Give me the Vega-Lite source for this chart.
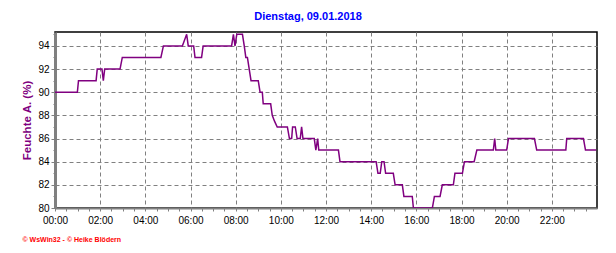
{
  "$schema": "https://vega.github.io/schema/vega-lite/v6.json",
  "width": 542,
  "height": 176,
  "autosize": {"type": "none"},
  "padding": {"left": 55, "top": 32, "right": 19, "bottom": 45},
  "background": "white",
  "title": {"text": "Dienstag, 09.01.2018", "color": "#0000FF", "font": "Liberation Sans", "fontSize": 11, "fontWeight": "bold", "anchor": "middle", "dx": -18, "dy": 13, "offset": 11, "baseline": "alphabetic"},
  "config": {"view": {"stroke": "#000000", "strokeWidth": 1.5}},
  "data": {"values": [
    {"h": 0, "v": 90}, {"h": 0.99, "v": 90}, {"h": 1.04, "v": 91}, {"h": 1.82, "v": 91}, {"h": 1.87, "v": 92},
    {"h": 2.08, "v": 92}, {"h": 2.14, "v": 91}, {"h": 2.2, "v": 92}, {"h": 2.88, "v": 92}, {"h": 2.98, "v": 93},
    {"h": 4.69, "v": 93}, {"h": 4.8, "v": 94}, {"h": 5.64, "v": 94}, {"h": 5.83, "v": 95}, {"h": 5.9, "v": 94},
    {"h": 6.14, "v": 94}, {"h": 6.2, "v": 93}, {"h": 6.49, "v": 93}, {"h": 6.56, "v": 94}, {"h": 7.82, "v": 94},
    {"h": 7.9, "v": 95}, {"h": 7.97, "v": 94}, {"h": 8.05, "v": 95}, {"h": 8.3, "v": 95}, {"h": 8.38, "v": 94},
    {"h": 8.45, "v": 93}, {"h": 8.52, "v": 93}, {"h": 8.6, "v": 92}, {"h": 8.68, "v": 91}, {"h": 9.0, "v": 91},
    {"h": 9.08, "v": 90}, {"h": 9.18, "v": 90}, {"h": 9.22, "v": 89}, {"h": 9.55, "v": 89}, {"h": 9.62, "v": 88},
    {"h": 9.72, "v": 87.5}, {"h": 9.84, "v": 87}, {"h": 10.29, "v": 87}, {"h": 10.38, "v": 86}, {"h": 10.48, "v": 86},
    {"h": 10.52, "v": 87}, {"h": 10.64, "v": 87}, {"h": 10.72, "v": 86}, {"h": 10.86, "v": 86}, {"h": 10.92, "v": 87},
    {"h": 10.98, "v": 86}, {"h": 11.48, "v": 86}, {"h": 11.55, "v": 85}, {"h": 11.6, "v": 85.6}, {"h": 11.63, "v": 86},
    {"h": 11.68, "v": 85}, {"h": 12.55, "v": 85}, {"h": 12.62, "v": 84}, {"h": 14.22, "v": 84}, {"h": 14.3, "v": 83},
    {"h": 14.4, "v": 83}, {"h": 14.47, "v": 84}, {"h": 14.57, "v": 84}, {"h": 14.64, "v": 83}, {"h": 14.98, "v": 83},
    {"h": 15.06, "v": 82}, {"h": 15.38, "v": 82}, {"h": 15.45, "v": 81}, {"h": 15.82, "v": 81}, {"h": 15.87, "v": 80},
    {"h": 16.71, "v": 80}, {"h": 16.8, "v": 81}, {"h": 17.05, "v": 81}, {"h": 17.15, "v": 82}, {"h": 17.64, "v": 82},
    {"h": 17.71, "v": 83}, {"h": 18.04, "v": 83}, {"h": 18.13, "v": 84}, {"h": 18.56, "v": 84}, {"h": 18.68, "v": 85},
    {"h": 19.41, "v": 85}, {"h": 19.47, "v": 86}, {"h": 19.52, "v": 85}, {"h": 20.0, "v": 85}, {"h": 20.08, "v": 86},
    {"h": 21.23, "v": 86}, {"h": 21.33, "v": 85}, {"h": 22.62, "v": 85}, {"h": 22.66, "v": 86}, {"h": 23.4, "v": 86},
    {"h": 23.49, "v": 85}, {"h": 23.96, "v": 85}
  ]},
  "mark": {"type": "line", "color": "#800080", "strokeWidth": 1.5, "clip": true},
  "encoding": {
    "x": {
      "field": "h", "type": "quantitative",
      "scale": {"domain": [0, 24], "nice": false, "zero": false},
      "axis": {
        "values": [0,0.5,1,1.5,2,2.5,3,3.5,4,4.5,5,5.5,6,6.5,7,7.5,8,8.5,9,9.5,10,10.5,11,11.5,12,12.5,13,13.5,14,14.5,15,15.5,16,16.5,17,17.5,18,18.5,19,19.5,20,20.5,21,21.5,22,22.5,23,23.5],
        "labelExpr": "datum.value % 2 === 0 ? ((datum.value < 10 ? '0' : '') + datum.value + ':00') : ''",
        "labelOverlap": false,
        "labelFlush": false,
        "grid": true,
        "gridColor": "#808080",
        "gridDash": [4, 3],
        "gridWidth": 1,
        "gridOpacity": {"condition": {"test": "datum.value % 2 === 0 && datum.value > 0", "value": 1}, "value": 0},
        "domainColor": "#808080",
        "domainWidth": 2,
        "tickColor": "#808080",
        "tickSize": 3,
        "labelFont": "Liberation Sans",
        "labelFontSize": 10,
        "labelColor": "#000000",
        "labelPadding": 4,
        "title": "© WsWin32 - © Heike Blödern",
        "titleColor": "#FF0000",
        "titleFont": "Liberation Sans",
        "titleFontSize": 7,
        "titleFontWeight": "bold",
        "titleAnchor": "start",
        "titleAlign": "left",
        "titleBaseline": "alphabetic",
        "titleX": -33,
        "titleY": 33
      }
    },
    "y": {
      "field": "v", "type": "quantitative",
      "scale": {"domain": [80, 95.2], "nice": false, "zero": false},
      "axis": {
        "values": [80,81,82,83,84,85,86,87,88,89,90,91,92,93,94,95],
        "labelExpr": "datum.value % 2 === 0 ? datum.value : ''",
        "labelOverlap": false,
        "labelFlush": false,
        "grid": true,
        "gridColor": "#808080",
        "gridDash": [4, 3],
        "gridWidth": 1,
        "gridOpacity": {"condition": {"test": "datum.value % 2 === 0 && datum.value > 80", "value": 1}, "value": 0},
        "domainColor": "#808080",
        "domainWidth": 3,
        "tickColor": "#808080",
        "tickSize": {"condition": {"test": "datum.value % 2 === 0", "value": 4}, "value": 2},
        "labelFont": "Liberation Sans",
        "labelFontSize": 10,
        "labelColor": "#000000",
        "labelPadding": 2,
        "title": "Feuchte A. (%)",
        "titleColor": "#800080",
        "titleFont": "Liberation Sans",
        "titleFontSize": 11.5,
        "titleFontWeight": "bold",
        "titleAngle": -90,
        "titleAlign": "center",
        "titleBaseline": "middle",
        "titleX": -28,
        "titleY": 88
      }
    }
  }
}
